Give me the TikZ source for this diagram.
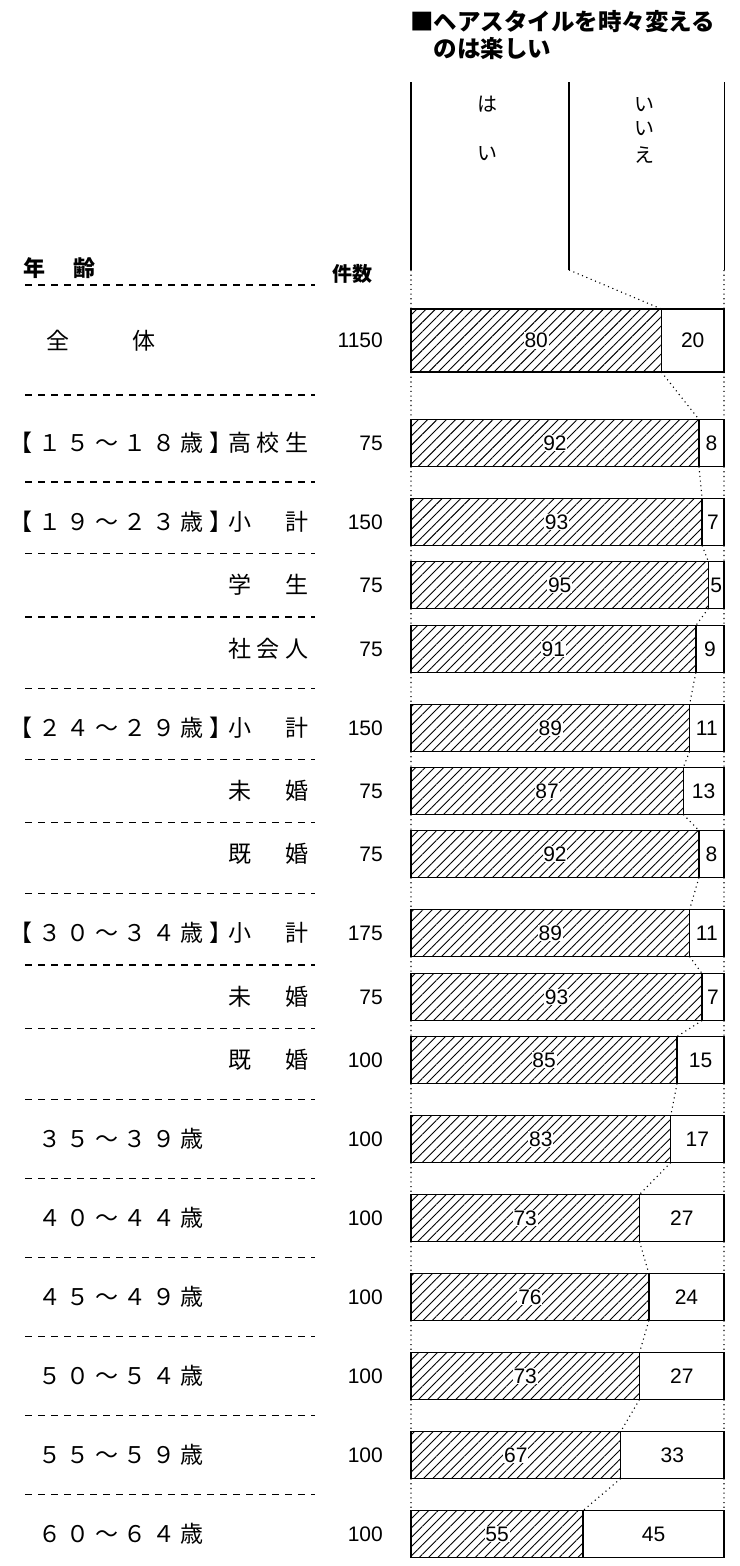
\documentclass[tikz,border=0pt]{standalone}
\usepackage{fontspec}
\usepackage{tikz}
\usetikzlibrary{positioning,patterns.meta}
\newfontfamily\jp{Noto Sans CJK JP}
\newfontfamily\num{Liberation Sans}
\newlength\chpitch
\setlength\chpitch{28.5pt}
\def\spc#1{\spcx#1\relax}
\def\spcx#1{\ifx\relax#1\else\makebox[\chpitch]{#1}\expandafter\spcx\fi}
\newcommand\knock[1]{{\fboxsep=0.8pt\colorbox{white}{#1}}}
\tikzset{
	yesbar/.style={
		draw, line width=1.4pt, inner sep=0pt, outer sep=0pt, anchor=west,
		minimum height=47pt, minimum width=#1*3.13pt,
		pattern={Lines[angle=45,distance=6.6pt,line width=0.9pt]},
		font=\num\fontsize{21}{21}\selectfont
	},
	nobar/.style={
		draw, line width=1.4pt, inner sep=0pt, outer sep=0pt, anchor=west,
		minimum height=47pt, minimum width=#1*3.13pt,
		font=\num\fontsize{21}{21}\selectfont
	},
	group/.style={anchor=west, inner sep=0pt, font=\jp\fontsize{23}{23}\selectfont},
	sub/.style={anchor=east, inner sep=0pt, font=\jp\fontsize{23}{23}\selectfont},
	count/.style={anchor=east, inner sep=0pt, font=\num\fontsize{21}{21}\selectfont},
	head/.style={inner sep=0pt, font=\jp\fontsize{20}{20}\selectfont},
	link/.style={line width=1.1pt, dash pattern=on 1.1pt off 3.6pt},
	rule/.style={line width=1.1pt, dash pattern=on 6.5pt off 6.5pt}
}
\begin{document}
\begin{tikzpicture}[x=1pt, y=-1pt]
\useasboundingbox (0,0) rectangle (739,1566);

% title and column heads
\node[anchor=north west, align=left, inner sep=0pt, font=\jp\bfseries\fontsize{23.5}{27}\selectfont] (ttl) at (410,10) {■ヘアスタイルを時々変える\\　のは楽しい};
\coordinate (hlt) at (411,82);
\coordinate (hlb) at (411,270);
\coordinate (hmt) at (569,82);
\coordinate (hmb) at (569,270);
\coordinate (hrt) at (724,82);
\coordinate (hrb) at (724,270);
\draw[line width=1.4pt] (hlt) -- (hlb) (hmt) -- (hmb);
\draw[line width=0.9pt] (hrt) -- (hrb);
\node[head] (yes1) at (487,104) {は};
\node[head] (yes2) at (487,154) {い};
\node[head] (no1) at (644,105) {い};
\node[head] (no2) at (644,129) {い};
\node[head] (no3) at (644,155) {え};
\node[group, font=\jp\bfseries\fontsize{22}{22}\selectfont] (hage) at (23,268) {年\hspace{28.5pt}齢};
\node[inner sep=0pt, font=\jp\bfseries\fontsize{20}{20}\selectfont] (hcnt) at (352,274) {件数};
\draw[rule] (25,285) -- (315,285);

% rows
\node[group] (l0) at (44,340.5) {\spc{全　　体}};
\node[count] (c0) at (383,340.5) {1150};
\node[yesbar=80, minimum height=63pt] (y0) at (411,340.5) {\knock{80}};
\node[nobar=20, minimum height=63pt, right=0pt of y0] (n0) {20};

\node[group] (g1) at (7,443) {\spc{【１５～１８歳】}};
\node[sub] (l1) at (311,443) {\spc{高校生}};
\node[count] (c1) at (383,443) {75};
\node[yesbar=92] (y1) at (411,443) {\knock{92}};
\node[nobar=8, right=0pt of y1] (n1) {8};

\node[group] (g2) at (7,522) {\spc{【１９～２３歳】}};
\node[sub] (l2) at (311,522) {\spc{小　計}};
\node[count] (c2) at (383,522) {150};
\node[yesbar=93] (y2) at (411,522) {\knock{93}};
\node[nobar=7, right=0pt of y2] (n2) {7};

\node[sub] (l3) at (311,585) {\spc{学　生}};
\node[count] (c3) at (383,585) {75};
\node[yesbar=95] (y3) at (411,585) {\knock{95}};
\node[nobar=5, right=0pt of y3] (n3) {5};

\node[sub] (l4) at (311,649) {\spc{社会人}};
\node[count] (c4) at (383,649) {75};
\node[yesbar=91] (y4) at (411,649) {\knock{91}};
\node[nobar=9, right=0pt of y4] (n4) {9};

\node[group] (g5) at (7,728) {\spc{【２４～２９歳】}};
\node[sub] (l5) at (311,728) {\spc{小　計}};
\node[count] (c5) at (383,728) {150};
\node[yesbar=89] (y5) at (411,728) {\knock{89}};
\node[nobar=11, right=0pt of y5] (n5) {11};

\node[sub] (l6) at (311,791) {\spc{未　婚}};
\node[count] (c6) at (383,791) {75};
\node[yesbar=87] (y6) at (411,791) {\knock{87}};
\node[nobar=13, right=0pt of y6] (n6) {13};

\node[sub] (l7) at (311,854) {\spc{既　婚}};
\node[count] (c7) at (383,854) {75};
\node[yesbar=92] (y7) at (411,854) {\knock{92}};
\node[nobar=8, right=0pt of y7] (n7) {8};

\node[group] (g8) at (7,933) {\spc{【３０～３４歳】}};
\node[sub] (l8) at (311,933) {\spc{小　計}};
\node[count] (c8) at (383,933) {175};
\node[yesbar=89] (y8) at (411,933) {\knock{89}};
\node[nobar=11, right=0pt of y8] (n8) {11};

\node[sub] (l9) at (311,997) {\spc{未　婚}};
\node[count] (c9) at (383,997) {75};
\node[yesbar=93] (y9) at (411,997) {\knock{93}};
\node[nobar=7, right=0pt of y9] (n9) {7};

\node[sub] (l10) at (311,1060) {\spc{既　婚}};
\node[count] (c10) at (383,1060) {100};
\node[yesbar=85] (y10) at (411,1060) {\knock{85}};
\node[nobar=15, right=0pt of y10] (n10) {15};

\node[group] (l11) at (35.5,1139) {\spc{３５～３９歳}};
\node[count] (c11) at (383,1139) {100};
\node[yesbar=83] (y11) at (411,1139) {\knock{83}};
\node[nobar=17, right=0pt of y11] (n11) {17};

\node[group] (l12) at (35.5,1218) {\spc{４０～４４歳}};
\node[count] (c12) at (383,1218) {100};
\node[yesbar=73] (y12) at (411,1218) {\knock{73}};
\node[nobar=27, right=0pt of y12] (n12) {27};

\node[group] (l13) at (35.5,1297) {\spc{４５～４９歳}};
\node[count] (c13) at (383,1297) {100};
\node[yesbar=76] (y13) at (411,1297) {\knock{76}};
\node[nobar=24, right=0pt of y13] (n13) {24};

\node[group] (l14) at (35.5,1376) {\spc{５０～５４歳}};
\node[count] (c14) at (383,1376) {100};
\node[yesbar=73] (y14) at (411,1376) {\knock{73}};
\node[nobar=27, right=0pt of y14] (n14) {27};

\node[group] (l15) at (35.5,1455) {\spc{５５～５９歳}};
\node[count] (c15) at (383,1455) {100};
\node[yesbar=67] (y15) at (411,1455) {\knock{67}};
\node[nobar=33, right=0pt of y15] (n15) {33};

\node[group] (l16) at (35.5,1534) {\spc{６０～６４歳}};
\node[count] (c16) at (383,1534) {100};
\node[yesbar=55] (y16) at (411,1534) {\knock{55}};
\node[nobar=45, right=0pt of y16] (n16) {45};

% dashed rules between the rows
\draw[rule] (25,395) -- (315,395) (25,482) -- (315,482) (25,553.5) -- (315,553.5)
	(25,617) -- (315,617) (25,688.5) -- (315,688.5) (25,759.5) -- (315,759.5)
	(25,822.5) -- (315,822.5) (25,893.5) -- (315,893.5) (25,965) -- (315,965)
	(25,1028.5) -- (315,1028.5) (25,1099.5) -- (315,1099.5) (25,1178.5) -- (315,1178.5)
	(25,1257.5) -- (315,1257.5) (25,1336.5) -- (315,1336.5) (25,1415.5) -- (315,1415.5)
	(25,1494.5) -- (315,1494.5);

% dotted links from bar to bar
\draw[link] (hlb) -- (y0.north west) (hmb) -- (y0.north east) (hrb) -- (n0.north east);
\draw[link] (y0.south west) -- (y1.north west) (y0.south east) -- (y1.north east) (n0.south east) -- (n1.north east);
\draw[link] (y1.south west) -- (y2.north west) (y1.south east) -- (y2.north east) (n1.south east) -- (n2.north east);
\draw[link] (y2.south west) -- (y3.north west) (y2.south east) -- (y3.north east) (n2.south east) -- (n3.north east);
\draw[link] (y3.south west) -- (y4.north west) (y3.south east) -- (y4.north east) (n3.south east) -- (n4.north east);
\draw[link] (y4.south west) -- (y5.north west) (y4.south east) -- (y5.north east) (n4.south east) -- (n5.north east);
\draw[link] (y5.south west) -- (y6.north west) (y5.south east) -- (y6.north east) (n5.south east) -- (n6.north east);
\draw[link] (y6.south west) -- (y7.north west) (y6.south east) -- (y7.north east) (n6.south east) -- (n7.north east);
\draw[link] (y7.south west) -- (y8.north west) (y7.south east) -- (y8.north east) (n7.south east) -- (n8.north east);
\draw[link] (y8.south west) -- (y9.north west) (y8.south east) -- (y9.north east) (n8.south east) -- (n9.north east);
\draw[link] (y9.south west) -- (y10.north west) (y9.south east) -- (y10.north east) (n9.south east) -- (n10.north east);
\draw[link] (y10.south west) -- (y11.north west) (y10.south east) -- (y11.north east) (n10.south east) -- (n11.north east);
\draw[link] (y11.south west) -- (y12.north west) (y11.south east) -- (y12.north east) (n11.south east) -- (n12.north east);
\draw[link] (y12.south west) -- (y13.north west) (y12.south east) -- (y13.north east) (n12.south east) -- (n13.north east);
\draw[link] (y13.south west) -- (y14.north west) (y13.south east) -- (y14.north east) (n13.south east) -- (n14.north east);
\draw[link] (y14.south west) -- (y15.north west) (y14.south east) -- (y15.north east) (n14.south east) -- (n15.north east);
\draw[link] (y15.south west) -- (y16.north west) (y15.south east) -- (y16.north east) (n15.south east) -- (n16.north east);
\end{tikzpicture}
\end{document}
